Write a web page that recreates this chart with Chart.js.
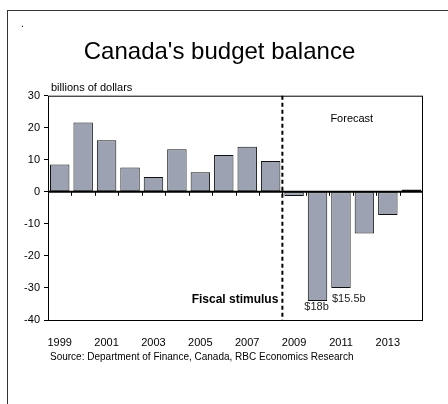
<!DOCTYPE html>
<html>
<head>
<meta charset="utf-8">
<script src="https://cdn.jsdelivr.net/npm/chart.js@4.4.1/dist/chart.umd.min.js"></script>
<style>
    html, body { margin: 0; padding: 0; background: #fff; overflow: hidden; }
    #frame {
        position: absolute; left: 7px; top: 10px;
        width: 1000px; height: 1000px;
        border-left: 1px solid #333; border-top: 1px solid #333;
    }
    #wrap { position: absolute; left: 0; top: 0; width: 448px; height: 404px; }
</style>
</head>
<body>
<div id="frame"></div>
<div id="wrap"><canvas id="budgetChart" width="448" height="404"></canvas></div>
<script>
// Fiscal years and federal budget balance (billions of dollars)
const years = ['1999', '2000', '2001', '2002', '2003', '2004', '2005', '2006',
               '2007', '2008', '2009', '2010', '2011', '2012', '2013', '2014'];
const balance = [8.5, 21.6, 16.1, 7.6, 4.6, 13.3, 6.1, 11.5,
                 14.1, 9.6, -1.3, -34.1, -30.0, -13.0, -7.2, 0.7];
const yTicks = [-40, -30, -20, -10, 0, 10, 20, 30];

// Stimulus amounts written under the 2010 and 2011 bars
const stimulusYears = ['2010', '2011'];
const stimulusLabels = ['$18b', '$15.5b'];

const forecastStart = '2009';

const fontFamily = '"Liberation Sans", Arial, sans-serif';

const chartDecor = {
    id: 'chartDecor',
    afterDatasetsDraw(chart) {
        const { ctx, chartArea: a, scales } = chart;
        const x = scales.x, y = scales.y;
        const step = x.getPixelForValue(1) - x.getPixelForValue(0);
        const zero = y.getPixelForValue(0);

        ctx.save();
        // plot frame
        ctx.strokeStyle = '#000';
        ctx.lineWidth = 1;
        ctx.strokeRect(a.left + 0.5, a.top + 0.5, a.right - a.left - 1, a.bottom - a.top);

        // zero line with category ticks
        ctx.lineWidth = 2;
        ctx.beginPath();
        ctx.moveTo(a.left, zero);
        ctx.lineTo(a.right, zero);
        ctx.stroke();
        ctx.lineWidth = 1;
        ctx.beginPath();
        for (let i = 1; i < years.length; i++) {
            const px = Math.round(x.getPixelForValue(i) - step / 2) + 0.5;
            ctx.moveTo(px, zero);
            ctx.lineTo(px, zero + 4);
        }
        ctx.stroke();

        // dashed divider before the forecast years
        const split = x.getPixelForValue(years.indexOf(forecastStart)) - step / 2;
        ctx.setLineDash([4, 3]);
        ctx.lineWidth = 2;
        ctx.beginPath();
        ctx.moveTo(split, a.top);
        ctx.lineTo(split, a.bottom);
        ctx.stroke();
        ctx.setLineDash([]);

        // text annotations
        ctx.fillStyle = '#000';
        ctx.textBaseline = 'middle';
        ctx.font = '11px ' + fontFamily;
        ctx.textAlign = 'left';
        ctx.fillText('billions of dollars', a.left + 3, a.top - 8);
        ctx.fillText('Forecast', split + 48, a.top + 23);

        ctx.font = 'bold 12px ' + fontFamily;
        ctx.textAlign = 'right';
        ctx.fillText('Fiscal stimulus', split - 4, a.bottom - 20);

        ctx.font = '11px ' + fontFamily;
        ctx.fillStyle = '#222';
        stimulusYears.forEach((yr, i) => {
            const idx = years.indexOf(yr);
            const bx = x.getPixelForValue(idx);
            const by = y.getPixelForValue(balance[idx]);
            if (i === 0) {
                ctx.textAlign = 'center';
                ctx.fillText(stimulusLabels[i], bx - 1, by + 6);
            } else {
                ctx.textAlign = 'left';
                ctx.fillText(stimulusLabels[i], bx - 9, by + 11);
            }
        });

        ctx.fillStyle = '#000';
        ctx.font = '10px ' + fontFamily;
        ctx.textAlign = 'left';
        ctx.fillText('Source: Department of Finance, Canada, RBC Economics Research', 50, 357);
        ctx.fillText('.', 21, 24);
        ctx.restore();
    }
};

const budgetCtx = document.getElementById('budgetChart');
new Chart(budgetCtx, {
    type: 'bar',
    data: {
        labels: years,
        datasets: [{
            label: 'Budget balance',
            data: balance,
            backgroundColor: '#9ca2b1',
            borderColor: '#111',
            borderWidth: 1,
            borderSkipped: false,
            categoryPercentage: 1.0,
            barPercentage: 0.83
        }]
    },
    options: {
        responsive: false,
        animation: false,
        devicePixelRatio: 1,
        layout: { padding: { top: 0, right: 25, bottom: 0, left: 16 } },
        plugins: {
            legend: { display: false },
            tooltip: { enabled: false },
            title: {
                display: true,
                text: "Canada's budget balance",
                color: '#000',
                font: { family: fontFamily, size: 24, weight: 'normal' },
                padding: { top: 37.5, bottom: 29.4 }
            }
        },
        scales: {
            x: {
                grid: { display: false, drawTicks: false },
                border: { display: false },
                ticks: {
                    autoSkip: false,
                    maxRotation: 0,
                    padding: 16,
                    color: '#000',
                    font: { family: fontFamily, size: 11 },
                    callback: (v, i) => (i % 2 === 0 ? years[i] : '')
                },
                afterFit: (scale) => { scale.height = 84; }
            },
            y: {
                min: -40,
                max: 30,
                afterBuildTicks: (scale) => { scale.ticks = yTicks.map(v => ({ value: v })); },
                grid: {
                    drawOnChartArea: false,
                    drawTicks: true,
                    tickLength: 4,
                    tickColor: '#000'
                },
                border: { display: false },
                ticks: {
                    padding: 4,
                    color: '#000',
                    font: { family: fontFamily, size: 11 }
                },
                afterFit: (scale) => { scale.width = 32; }
            }
        }
    },
    plugins: [chartDecor]
});
</script>
</body>
</html>
